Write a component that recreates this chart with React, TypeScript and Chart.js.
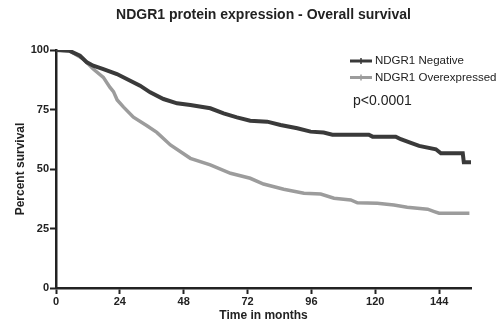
import React, { useEffect, useRef } from "react";
import { Chart, registerables } from "chart.js";

Chart.register(...registerables);

const chartTitle = "NDGR1 protein expression - Overall survival";
const xTitle = "Time in months";
const yTitle = "Percent survival";
const pText = "p<0.0001";
const seriesNames = ["NDGR1 Negative", "NDGR1 Overexpressed"];
const seriesColors = ["#3a3a3a", "#9c9c9c"];

const xTicks = [0, 24, 48, 72, 96, 120, 144];
const yTicks = [0, 25, 50, 75, 100];

const negTime = [0, 5, 9, 11.6, 14, 17.8, 22.9, 27.9, 31.6, 35.4, 40.4, 45.5, 50.5, 58, 63, 68, 73, 79.4, 84.4, 90.7, 95.7, 100.6, 103.9, 117.6, 119, 127.7, 129.6, 133.4, 136.5, 142.8, 144.7, 152.9, 153.3, 156];
const negSurv = [100, 99.7, 97.6, 94.8, 93.4, 92, 89.9, 87.1, 85, 82.2, 79.4, 77.6, 76.9, 75.5, 73.4, 71.7, 70.3, 69.9, 68.5, 67.1, 65.7, 65.3, 64.4, 64.4, 63.6, 63.6, 62.5, 61, 59.7, 58.3, 56.6, 56.6, 52.8, 52.8];

const overTime = [0, 5, 10.3, 14, 17.8, 20.3, 21.6, 23, 25.4, 29.1, 34.2, 37.9, 43, 50.5, 58, 65.6, 73, 78, 85.6, 93.2, 99.5, 104.5, 110.8, 113.3, 120.8, 127, 132, 139.7, 142.2, 144, 155.4];
const overSurv = [100, 99.7, 96.2, 92, 88.5, 84.3, 82.5, 79, 76, 71.8, 68.2, 65.4, 60.1, 54.5, 51.7, 48.2, 46.1, 43.7, 41.5, 39.8, 39.5, 37.7, 37, 35.8, 35.6, 34.9, 33.9, 33.1, 32.1, 31.4, 31.4];

const FONT = "'Liberation Sans', Arial, Helvetica, sans-serif";
const TEXT = "#222222";

const overlayPlugin = {
  id: "overlay",
  afterDraw(chart: any) {
    const { ctx, chartArea } = chart;
    ctx.save();
    ctx.fillStyle = TEXT;
    ctx.font = `bold 14px ${FONT}`;
    ctx.textAlign = "center";
    ctx.textBaseline = "middle";
    ctx.fillText(chartTitle, (chartArea.left + chartArea.right) / 2, 15);

    chart.data.datasets.forEach((ds: any, i: number) => {
      const y = 61 + i * 16.5;
      ctx.strokeStyle = ds.borderColor;
      ctx.lineWidth = 3;
      ctx.beginPath();
      ctx.moveTo(350, y);
      ctx.lineTo(372, y);
      ctx.stroke();
      ctx.lineWidth = 1.5;
      ctx.beginPath();
      ctx.moveTo(361, y - 3);
      ctx.lineTo(361, y + 3);
      ctx.stroke();
      ctx.fillStyle = TEXT;
      ctx.font = `11.5px ${FONT}`;
      ctx.textAlign = "left";
      ctx.fillText(ds.label, 375, y);
    });

    ctx.font = `14px ${FONT}`;
    ctx.textAlign = "left";
    ctx.fillText(pText, 353, 101);
    ctx.restore();
  },
};

export default function App() {
  const ref = useRef<HTMLCanvasElement | null>(null);
  useEffect(() => {
    if (!ref.current) return;
    const chart = new Chart(ref.current, {
      type: "line",
      data: {
        datasets: [
          {
            label: seriesNames[0],
            data: negTime.map((t, i) => ({ x: t, y: negSurv[i] })),
            borderColor: seriesColors[0],
            backgroundColor: seriesColors[0],
            borderWidth: 4,
            pointRadius: 0,
            tension: 0,
            fill: false,
          },
          {
            label: seriesNames[1],
            data: overTime.map((t, i) => ({ x: t, y: overSurv[i] })),
            borderColor: seriesColors[1],
            backgroundColor: seriesColors[1],
            borderWidth: 3.5,
            pointRadius: 0,
            tension: 0,
            fill: false,
          },
        ],
      },
      options: {
        responsive: false,
        animation: false,
        devicePixelRatio: 1,
        layout: { padding: { left: 0, top: 50, right: 26, bottom: 0 } },
        plugins: {
          legend: { display: false },
          title: { display: false },
          tooltip: { enabled: false },
        },
        scales: {
          x: {
            type: "linear",
            min: 0,
            max: 156,
            afterFit: (s: any) => {
              s.height = 34;
            },
            afterBuildTicks: (s: any) => {
              s.ticks = xTicks.map((v) => ({ value: v }));
            },
            ticks: {
              autoSkip: false,
              maxRotation: 0,
              padding: 1,
              color: TEXT,
              font: { family: FONT, size: 11, weight: "bold" },
            },
            grid: {
              drawOnChartArea: false,
              drawTicks: true,
              tickLength: 6,
              tickColor: TEXT,
              tickWidth: 2,
            },
            border: { display: true, color: TEXT, width: 2.5 },
            title: {
              display: true,
              text: xTitle,
              color: TEXT,
              font: { family: FONT, size: 12, weight: "bold", lineHeight: 1 },
              padding: { top: 0, bottom: 0 },
            },
          },
          y: {
            type: "linear",
            min: 0,
            max: 100,
            afterFit: (s: any) => {
              s.width = 56;
            },
            afterBuildTicks: (s: any) => {
              s.ticks = yTicks.map((v) => ({ value: v }));
            },
            ticks: {
              padding: 1,
              color: TEXT,
              font: { family: FONT, size: 11, weight: "bold" },
            },
            grid: {
              drawOnChartArea: false,
              drawTicks: true,
              tickLength: 6,
              tickColor: TEXT,
              tickWidth: 2,
            },
            border: { display: true, color: TEXT, width: 2.5 },
            title: {
              display: true,
              text: yTitle,
              color: TEXT,
              font: { family: FONT, size: 12, weight: "bold", lineHeight: 1 },
              padding: { top: 14.7, bottom: 0 },
            },
          },
        },
      },
      plugins: [overlayPlugin],
    });
    return () => chart.destroy();
  }, []);
  return (
    <div style={{ position: "fixed", left: 0, top: 0, width: 497, height: 322, background: "#fff" }}>
      <canvas ref={ref} width={497} height={322} style={{ display: "block" }} />
    </div>
  );
}
